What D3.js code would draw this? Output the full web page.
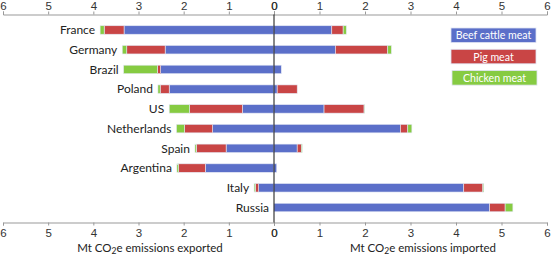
<!DOCTYPE html>
<html>
<head>
  <meta charset="utf-8">
  <style>
    body { margin: 0; padding: 0; background: white; font-family: Lato, "Open Sans", sans-serif; }
    .tick text { fill: #333; font-size: 11.5px; }
    .domain, .tick line { stroke: #999; }
    .label { fill: #222; font-size: 12px; text-anchor: end; }
    .title { fill: #222; font-size: 11.5px; text-anchor: middle; }
    .legend text { fill: white; font-size: 10.6px; text-anchor: middle; }
  </style>
</head>
<body>
  <div id="chart"></div>
  <script src="https://d3js.org/d3.v7.min.js"></script>
  <script>
    // countries top to bottom
    var countries = ["France", "Germany", "Brazil", "Poland", "US", "Netherlands", "Spain", "Argentina", "Italy", "Russia"]

    // exported emissions (left side), Mt CO2e
    var exBeef    = [3.32, 2.41, 2.51, 2.32, 0.70, 1.36, 1.06, 1.52, 0.34, 0.00]
    var exPig     = [0.44, 0.85, 0.07, 0.20, 1.17, 0.62, 0.66, 0.59, 0.07, 0.00]
    var exChicken = [0.09, 0.10, 0.75, 0.05, 0.45, 0.18, 0.03, 0.04, 0.03, 0.00]

    // imported emissions (right side), Mt CO2e
    var imBeef    = [1.27, 1.35, 0.16, 0.07, 1.10, 2.78, 0.51, 0.06, 4.17, 4.74]
    var imPig     = [0.25, 1.15, 0.00, 0.44, 0.88, 0.16, 0.09, 0.00, 0.42, 0.34]
    var imChicken = [0.07, 0.08, 0.00, 0.00, 0.01, 0.09, 0.02, 0.00, 0.02, 0.17]

    var meats = ["Beef cattle meat", "Pig meat", "Chicken meat"]
    var colors = ["#5b6fc9", "#c94545", "#86cb42"]
    var ticks = [0, 1, 2, 3, 4, 5, 6]

    var width = 551, height = 257

    var svg = d3.select("#chart").append("svg")
      .attr("width", width)
      .attr("height", height)

    // left and right scales, both starting at the centre line
    var xLeft = d3.scaleLinear().domain([0, 6]).range([274, 3])
    var xRight = d3.scaleLinear().domain([0, 6]).range([274, 547])

    var y = d3.scaleBand().domain(countries).range([14.5, 223]).padding(0.57)

    var axisTop = 14.5, axisBottom = 222.5

    // axes
    svg.append("g").attr("transform", "translate(0," + axisTop + ")")
      .call(d3.axisTop(xLeft).tickValues(ticks).tickSize(3).tickPadding(2).tickFormat(d3.format("d")))
    svg.append("g").attr("transform", "translate(0," + axisTop + ")")
      .call(d3.axisTop(xRight).tickValues(ticks).tickSize(3).tickPadding(2).tickFormat(d3.format("d")))
    svg.append("g").attr("transform", "translate(0," + axisBottom + ")")
      .call(d3.axisBottom(xLeft).tickValues(ticks).tickSize(3).tickPadding(3).tickFormat(d3.format("d")))
    svg.append("g").attr("transform", "translate(0," + axisBottom + ")")
      .call(d3.axisBottom(xRight).tickValues(ticks).tickSize(3).tickPadding(3).tickFormat(d3.format("d")))

    // stack segments for each side
    function segments(beef, pig, chicken) {
      return countries.map(function (c, i) {
        var vals = [beef[i], pig[i], chicken[i]]
        var start = 0
        return vals.map(function (v, k) {
          var s = { country: c, k: k, x0: start, x1: start + v }
          start += v
          return s
        })
      }).flat().filter(function (s) { return s.x1 > s.x0 })
    }

    var leftSegs = segments(exBeef, exPig, exChicken)
    var rightSegs = segments(imBeef, imPig, imChicken)

    svg.append("g").selectAll("rect")
      .data(leftSegs).enter().append("rect")
      .attr("x", function (d) { return xLeft(d.x1) })
      .attr("width", function (d) { return xLeft(d.x0) - xLeft(d.x1) })
      .attr("y", function (d) { return y(d.country) })
      .attr("height", y.bandwidth())
      .attr("fill", function (d) { return colors[d.k] })
      .attr("stroke", "#e4e8f4").attr("stroke-width", 0.6)

    svg.append("g").selectAll("rect")
      .data(rightSegs).enter().append("rect")
      .attr("x", function (d) { return xRight(d.x0) })
      .attr("width", function (d) { return xRight(d.x1) - xRight(d.x0) })
      .attr("y", function (d) { return y(d.country) })
      .attr("height", y.bandwidth())
      .attr("fill", function (d) { return colors[d.k] })
      .attr("stroke", "#e4e8f4").attr("stroke-width", 0.6)

    // country labels just left of the export bar
    svg.append("g").selectAll("text")
      .data(countries).enter().append("text")
      .attr("class", "label")
      .attr("x", function (c, i) { return xLeft(exBeef[i] + exPig[i] + exChicken[i]) - 5 })
      .attr("y", function (c) { return y(c) + y.bandwidth() / 2 })
      .attr("dy", "0.35em")
      .text(function (c) { return c })

    // centre line
    svg.append("line")
      .attr("x1", xLeft(0)).attr("x2", xLeft(0))
      .attr("y1", axisTop).attr("y2", axisBottom)
      .attr("stroke", "#111").attr("stroke-width", 1)

    // axis titles
    var t1 = svg.append("text").attr("class", "title").attr("x", 150).attr("y", 252)
    t1.append("tspan").text("Mt CO")
    t1.append("tspan").attr("dy", 2).attr("font-size", 8.5).text("2")
    t1.append("tspan").attr("dy", -2).text("e emissions exported")

    var t2 = svg.append("text").attr("class", "title").attr("x", 423).attr("y", 252)
    t2.append("tspan").text("Mt CO")
    t2.append("tspan").attr("dy", 2).attr("font-size", 8.5).text("2")
    t2.append("tspan").attr("dy", -2).text("e emissions imported")

    // legend boxes
    var legend = svg.append("g").attr("class", "legend")
      .selectAll("g").data(meats).enter().append("g")
      .attr("transform", function (d, i) { return "translate(" + (451 + (i == 2 ? 1 : 0)) + "," + (28 + i * 21.3) + ")" })

    legend.append("rect")
      .attr("width", 85).attr("height", 14.5)
      .attr("fill", function (d, i) { return colors[i] })
      .attr("stroke", "#dfe3f2").attr("stroke-width", 0.8)

    legend.append("text")
      .attr("x", 42.5).attr("y", 7.5).attr("dy", "0.35em")
      .text(function (d) { return d })
  </script>
</body>
</html>
